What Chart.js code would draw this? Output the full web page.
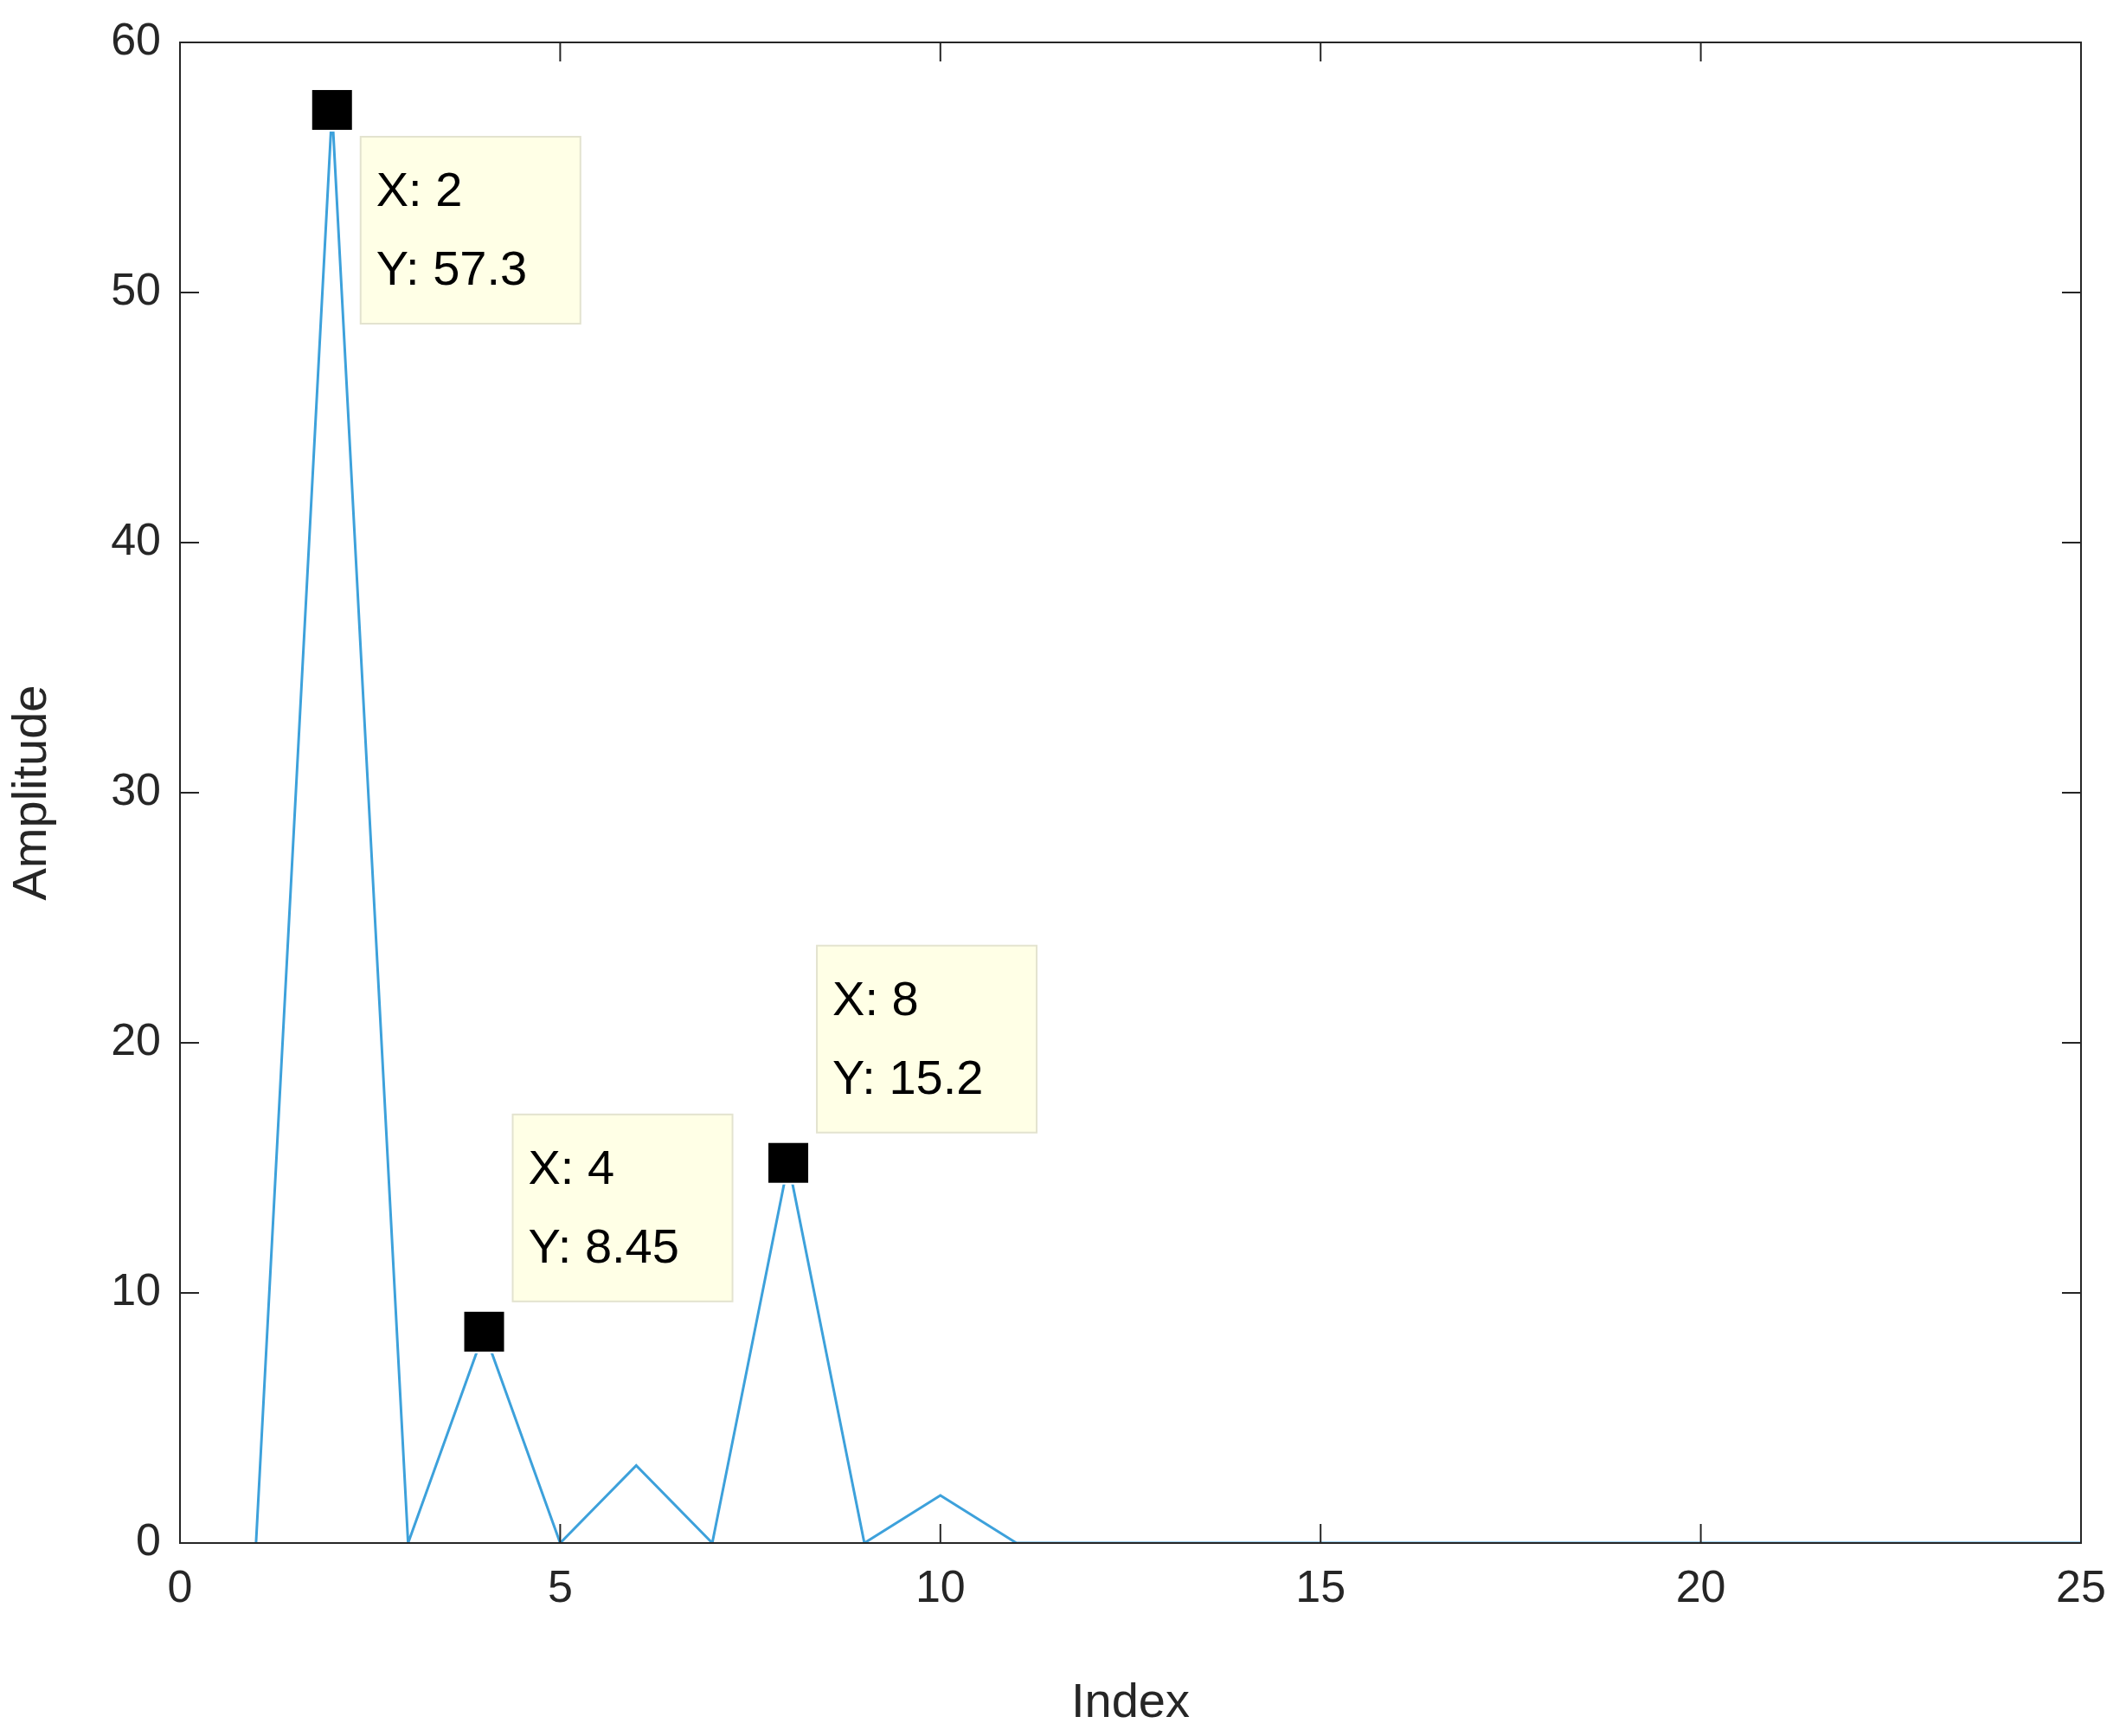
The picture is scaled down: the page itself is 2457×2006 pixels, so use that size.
<!DOCTYPE html>
<html><head><meta charset="utf-8">
<script src="https://cdn.jsdelivr.net/npm/chart.js@4"></script>
<style>html,body{margin:0;padding:0;background:#fff}#c{display:block}</style>
</head><body>
<div style="width:2457px;height:2006px"><canvas id="c"></canvas></div>
<script>
const indices=[1,2,3,4,5,6,7,8,9,10,11,12,13,14,15,16,17,18,19,20,21,22,23,24,25];
const amplitude=[0,57.3,0,8.45,0,3.1,0,15.2,0,1.9,0,0,0,0,0,0,0,0,0,0,0,0,0,0,0];
const tips=[{x:2,y:57.3,below:true},{x:4,y:8.45,below:false},{x:8,y:15.2,below:false}];
const xTicks=[0,5,10,15,20,25], yTicks=[0,10,20,30,40,50,60];
const FONT='"Liberation Sans", Arial, sans-serif';
const frame={id:'frame',afterDraw(ch){
  const {ctx,chartArea:a,scales:{x,y}}=ch;
  ctx.save();ctx.strokeStyle='#262626';ctx.lineWidth=2;
  ctx.strokeRect(a.left,a.top,a.right-a.left,a.bottom-a.top);
  const L=22;
  xTicks.forEach(v=>{const px=x.getPixelForValue(v);ctx.beginPath();ctx.moveTo(px,a.bottom);ctx.lineTo(px,a.bottom-L);ctx.moveTo(px,a.top);ctx.lineTo(px,a.top+L);ctx.stroke();});
  yTicks.forEach(v=>{const py=y.getPixelForValue(v);ctx.beginPath();ctx.moveTo(a.left,py);ctx.lineTo(a.left+L,py);ctx.moveTo(a.right,py);ctx.lineTo(a.right-L,py);ctx.stroke();});
  // datatips
  tips.forEach(t=>{
    const px=x.getPixelForValue(t.x),py=y.getPixelForValue(t.y);
    const w=254,h=216,bx=px+33,by=t.below?py+31:py-35-h;
    ctx.fillStyle='#FFFFE6';ctx.strokeStyle='#E3E3CF';ctx.lineWidth=2;
    ctx.fillRect(bx,by,w,h);ctx.strokeRect(bx,by,w,h);
    ctx.fillStyle='#000';ctx.font='56px '+FONT;ctx.textBaseline='middle';ctx.textAlign='left';
    ctx.fillText('X: '+t.x,bx+18,by+h*0.3);ctx.fillText('Y: '+t.y,bx+18,by+h*0.72);
    ctx.fillStyle='#000';ctx.strokeStyle='#fff';ctx.lineWidth=2;
    ctx.fillRect(px-24,py-24,48,48);ctx.strokeRect(px-24,py-24,48,48);
  });
  ctx.restore();
}};
new Chart(document.getElementById('c'),{
  type:'line',
  data:{datasets:[{data:indices.map((v,i)=>({x:v,y:amplitude[i]})),borderColor:'#3DA1DB',borderWidth:3,pointRadius:0,tension:0}]},
  options:{responsive:true,maintainAspectRatio:false,animation:false,
    layout:{padding:{top:49,right:52,left:0,bottom:0}},
    plugins:{legend:{display:false},tooltip:{enabled:false}},
    scales:{
      x:{type:'linear',min:0,max:25,afterBuildTicks:s=>{s.ticks=xTicks.map(v=>({value:v}))},
        grid:{display:false},border:{display:false},
        ticks:{font:{size:52,family:FONT},color:'#262626',padding:14,maxRotation:0},
        title:{display:true,text:'Index',font:{size:56,family:FONT},color:'#262626',padding:{top:8}},
        afterFit:s=>{s.height=223}},
      y:{min:0,max:60,afterBuildTicks:s=>{s.ticks=yTicks.map(v=>({value:v}))},
        grid:{display:false},border:{display:false},
        ticks:{font:{size:52,family:FONT},color:'#262626',padding:14},
        title:{display:true,text:'Amplitude',font:{size:56,family:FONT},color:'#262626',padding:{bottom:10}},
        afterFit:s=>{s.width=208}}
    }},
  plugins:[frame]
});
</script></body></html>
